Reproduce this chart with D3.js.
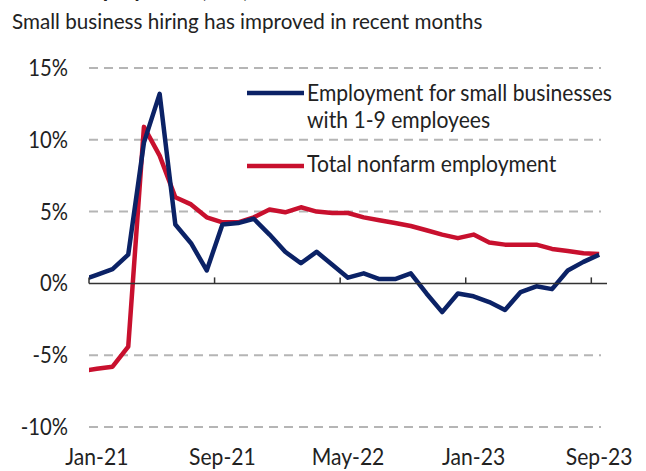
<!DOCTYPE html>
<html lang="en">
  <head>
    <meta charset="UTF-8">
    <title>Small business employment</title>
    <style>
      body { margin: 0; background: #fff; }
      svg text { font-family: Lato, "Open Sans", sans-serif; fill: #222; }
    </style>
  </head>
  <body>
    <div id="chart"></div>
    <script src="https://d3js.org/d3.v7.min.js"></script>
    <script>
      // months, Dec-20 .. Sep-23 (index 0 = Jan-21, Dec-20 sits just outside the plot and gets clipped)
      const months = ["Dec-20",
        "Jan-21","Feb-21","Mar-21","Apr-21","May-21","Jun-21","Jul-21","Aug-21","Sep-21","Oct-21","Nov-21","Dec-21",
        "Jan-22","Feb-22","Mar-22","Apr-22","May-22","Jun-22","Jul-22","Aug-22","Sep-22","Oct-22","Nov-22","Dec-22",
        "Jan-23","Feb-23","Mar-23","Apr-23","May-23","Jun-23","Jul-23","Aug-23","Sep-23"];

      // YoY %, employment for small businesses with 1-9 employees
      const smallBiz = [0.2,
        0.6, 1.0, 2.0, 9.8, 13.2, 4.1, 2.8, 0.9, 4.1, 4.2, 4.5, 3.4,
        2.2, 1.4, 2.2, 1.3, 0.4, 0.7, 0.3, 0.3, 0.7, -0.7, -2.0, -0.7,
        -0.9, -1.3, -1.85, -0.6, -0.2, -0.4, 0.9, 1.5, 2.0];

      // YoY %, total nonfarm employment
      const nonfarm = [-6.1,
        -5.95, -5.8, -4.4, 10.9, 8.9, 6.0, 5.5, 4.6, 4.25, 4.25, 4.6, 5.15,
        4.95, 5.3, 5.0, 4.9, 4.9, 4.6, 4.4, 4.2, 4.0, 3.7, 3.4, 3.15,
        3.4, 2.85, 2.7, 2.7, 2.7, 2.4, 2.25, 2.1, 2.05];

      const xLabels = ["Jan-21", "Sep-21", "May-22", "Jan-23", "Sep-23"];
      const yTicks = [15, 10, 5, 0, -5, -10];

      const seriesNames = ["Employment for small businesses", "with 1-9 employees", "Total nonfarm employment"];
      const blue = "#0b2266", red = "#c8102e";

      const W = 646, H = 471;
      const svg = d3.select("#chart").append("svg")
        .attr("width", W).attr("height", H);

      // plot area
      const plotL = 89, plotR = 607, plotT = 68, plotB = 427;

      const idx = months.map((m, i) => i - 1);   // Jan-21 -> 0
      const x = d3.scaleLinear().domain([-0.5, 32.5]).range([plotL, plotR]);
      const y = d3.scaleLinear().domain([-10, 15]).range([plotB, plotT]);

      // the font is a bit wider than the original narrow face, squeeze text horizontally
      function addText(g, tx, ty, str, size, anchor, sq) {
        return g.append("text")
          .attr("transform", "translate(" + tx + "," + ty + ") scale(" + (sq || 0.88) + ",1)")
          .attr("text-anchor", anchor || "start")
          .style("font-size", size + "px")
          .text(str);
      }

      // title (cut off at the top edge) and subtitle
      addText(svg, 72, -3, "Employment (YoY)", 25).style("font-weight", "bold");
      addText(svg, 12, 29, "Small business hiring has improved in recent months", 21.5, "start", 0.96);

      // gridlines
      svg.append("g").selectAll("line")
        .data(yTicks.filter(d => d != 0))
        .join("line")
        .attr("x1", plotL).attr("x2", 601)
        .attr("y1", d => y(d)).attr("y2", d => y(d))
        .attr("stroke", "#b5b5b5").attr("stroke-width", 2)
        .attr("stroke-dasharray", "9,6");

      // y labels
      const yl = svg.append("g");
      yTicks.forEach(d => addText(yl, 68, y(d) + 8, d + "%", 23, "end"));

      // clip for the lines
      svg.append("clipPath").attr("id", "plotClip")
        .append("rect").attr("x", plotL).attr("y", 0)
        .attr("width", plotR - plotL).attr("height", H);

      const line = d3.line()
        .x((d, i) => x(idx[i]))
        .y(d => y(d));

      const lines = svg.append("g").attr("clip-path", "url(#plotClip)");
      lines.append("path").datum(nonfarm)
        .attr("fill", "none").attr("stroke", red)
        .attr("stroke-width", 4.5).attr("stroke-linejoin", "round")
        .attr("d", line);
      lines.append("path").datum(smallBiz)
        .attr("fill", "none").attr("stroke", blue)
        .attr("stroke-width", 4.5).attr("stroke-linejoin", "round")
        .attr("d", line);

      // x axis: ticks sit between categories, labels in the middle of the category
      const xAxis = svg.append("g").attr("transform", "translate(0," + y(0) + ")");
      xAxis.append("line")
        .attr("x1", plotL).attr("x2", plotR)
        .attr("stroke", "#333").attr("stroke-width", 1.5);
      xAxis.selectAll(".tk")
        .data(d3.range(-0.5, 33, 8))
        .join("line").attr("class", "tk")
        .attr("x1", d => x(d)).attr("x2", d => x(d))
        .attr("y1", 0).attr("y2", -6)
        .attr("stroke", "#333").attr("stroke-width", 1.5);

      const xl = svg.append("g");
      xLabels.forEach((d, i) => addText(xl, x(i * 8), 465, d, 24, "middle"));

      // legend
      const leg = svg.append("g");
      leg.append("line").attr("x1", 247).attr("x2", 304).attr("y1", 93).attr("y2", 93)
        .attr("stroke", blue).attr("stroke-width", 4.5);
      addText(leg, 307, 101, seriesNames[0], 24);
      addText(leg, 307, 128, seriesNames[1], 24);
      leg.append("line").attr("x1", 247).attr("x2", 304).attr("y1", 166).attr("y2", 166)
        .attr("stroke", red).attr("stroke-width", 4.5);
      addText(leg, 307, 172, seriesNames[2], 24);
    </script>
  </body>
</html>
